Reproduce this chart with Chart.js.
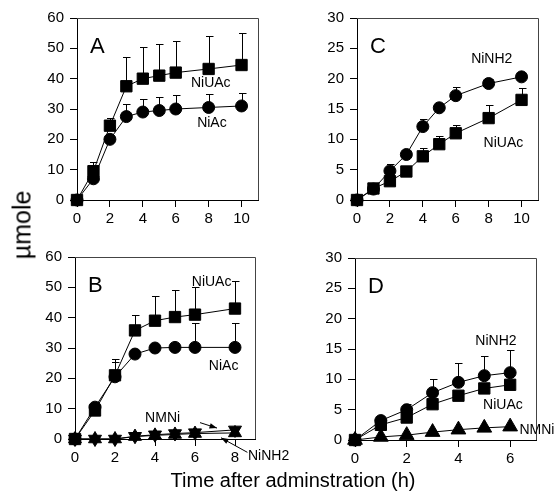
<!DOCTYPE html>
<html><head><meta charset="utf-8">
<script src="https://cdn.jsdelivr.net/npm/chart.js@4.4.0/dist/chart.umd.min.js"></script>
<style>
body{margin:0;background:#fff;width:558px;height:496px;position:relative;overflow:hidden;font-family:"Liberation Sans",Arial,sans-serif;}
canvas{position:absolute;}
.t{position:absolute;color:#000;white-space:nowrap;line-height:1;}
</style></head><body>
<canvas id="cA" width="280" height="240" style="left:0;top:0"></canvas>
<canvas id="cC" width="278" height="240" style="left:280px;top:0"></canvas>
<canvas id="cB" width="300" height="256" style="left:0;top:240px"></canvas>
<canvas id="cD" width="278" height="256" style="left:280px;top:240px"></canvas>
<div class="t" id="ylab" style="font-size:25px;left:22px;top:225px;transform:translate(-50%,-50%) rotate(-90deg);">µmole</div>
<div class="t" id="xlab" style="font-size:20px;left:293px;top:480px;transform:translate(-50%,-50%);">Time after adminstration (h)</div>
<script>
// ---------- data ----------
const timeAC = [0,1,2,3,4,5,6,8,10];
const timeB  = [0,1,2,3,4,5,6,8];
const timeD  = [0,1,2,3,4,5,6];

const xTicksAC = [0,2,4,6,8,10];
const xTicksB  = [0,2,4,6,8];
const xTicksD  = [0,2,4,6];
const yTicks60 = [0,10,20,30,40,50,60];
const yTicks30 = [0,5,10,15,20,25,30];

// Panel A
const A_NiUAc     = [0,9.5,24.5,37.5,40,41,42,43.2,44.5];
const A_NiUAc_err = [null,12.5,27,47.3,50.3,51.5,52.5,54,55.2];
const A_NiAc      = [0,7,20,27.5,29,29.5,30,30.5,31];
const A_NiAc_err  = [null,null,null,31.5,33.3,34,34.5,35,35.3];

// Panel C
const C_NiNH2     = [0,1.8,4.8,7.5,12.1,15.2,17.2,19.2,20.3];
const C_NiNH2_err = [null,null,6,null,13.4,15.9,18.7,19.9,null];
const C_NiUAc     = [0,1.9,3.1,4.7,7.2,9.2,11,13.5,16.5];
const C_NiUAc_err = [null,null,null,null,8.5,10.5,12.4,15.6,18.5];

// Panel B
const B_NiUAc     = [0,9.4,21,35.8,39,40.2,41,43];
const B_NiUAc_err = [null,12,26.5,41,47,49,50,52];
const B_NiAc      = [0,10.5,20.5,28,30,30.2,30.2,30.2];
const B_NiAc_err  = [null,null,25.5,null,null,null,38.2,38.2];
const B_NMNi      = [0,0,0,0.8,1.2,1.5,1.8,2.0];
const B_NiNH2     = [0,0,0,0.9,1.4,1.8,2.1,3.0];

// Panel D
const D_NiNH2     = [0,3.2,5,7.8,9.5,10.6,11.1];
const D_NiNH2_err = [null,null,5.9,10.1,12.7,13.8,14.9];
const D_NiUAc     = [0,2.5,3.7,5.9,7.3,8.5,9.1];
const D_NMNi      = [0,0.5,0.8,1.3,1.7,2.0,2.2];

// ---------- helpers ----------
const FONT = '"Liberation Sans", Arial, sans-serif';
function pts(xs, ys){ return xs.map((x,i)=>({x:x,y:ys[i]})); }
function ds(xs, ys, style, err, extra){
  return Object.assign({
    data: pts(xs, ys), err: err || null,
    borderColor:'#000', borderWidth:1, backgroundColor:'#000',
    pointStyle: style, pointRadius: style==='rect'?8:(style==='triangle'?8:6),
    pointBorderColor:'#000', pointBackgroundColor:'#000', pointBorderWidth:1,
    showLine:true, clip:false, tension:0
  }, extra||{});
}

const decor = {
  id:'decor',
  beforeDatasetsDraw(chart){
    const ctx = chart.ctx, a = chart.chartArea;
    const xs = chart.scales.x, ys = chart.scales.y;
    ctx.save();
    // top & right frame
    ctx.strokeStyle = '#444'; ctx.lineWidth = 1;
    ctx.beginPath();
    ctx.moveTo(a.left, a.top+0.5); ctx.lineTo(a.right+0.5, a.top+0.5);
    ctx.lineTo(a.right+0.5, a.bottom);
    ctx.stroke();
    // error bars
    ctx.strokeStyle = '#000';
    chart.data.datasets.forEach(d=>{
      if(!d.err) return;
      d.data.forEach((p,i)=>{
        const e = d.err[i];
        if(e==null) return;
        const px = Math.round(xs.getPixelForValue(p.x))+0.5;
        const py = ys.getPixelForValue(p.y);
        const pe = Math.round(ys.getPixelForValue(e))+0.5;
        ctx.beginPath();
        ctx.moveTo(px, py); ctx.lineTo(px, pe);
        ctx.moveTo(px-3.5, pe); ctx.lineTo(px+4, pe);
        ctx.stroke();
      });
    });
    ctx.restore();
  },
  afterDatasetsDraw(chart, args, o){
    const ctx = chart.ctx, a = chart.chartArea;
    const xs = chart.scales.x, ys = chart.scales.y;
    ctx.save();
    ctx.fillStyle = '#000';
    // panel letter
    ctx.font = '22px ' + FONT;
    ctx.textAlign = 'left'; ctx.textBaseline = 'alphabetic';
    ctx.fillText(o.panel, a.left + o.panelDx, a.top + 35);
    // series labels
    ctx.font = '14px ' + FONT;
    ctx.textBaseline = 'middle';
    (o.labels||[]).forEach(l=>{
      ctx.textAlign = l.align || 'center';
      ctx.fillText(l.text, xs.getPixelForValue(l.x), ys.getPixelForValue(l.y));
    });
    // arrows
    ctx.strokeStyle = '#000'; ctx.lineWidth = 1;
    (o.arrows||[]).forEach(r=>{
      const x1 = xs.getPixelForValue(r.x1), y1 = ys.getPixelForValue(r.y1);
      const x2 = xs.getPixelForValue(r.x2), y2 = ys.getPixelForValue(r.y2);
      ctx.beginPath(); ctx.moveTo(x1,y1); ctx.lineTo(x2,y2); ctx.stroke();
      const ang = Math.atan2(y2-y1, x2-x1), L = 8, W = 0.35;
      ctx.beginPath();
      ctx.moveTo(x2,y2);
      ctx.lineTo(x2 - L*Math.cos(ang-W), y2 - L*Math.sin(ang-W));
      ctx.lineTo(x2 - L*Math.cos(ang+W), y2 - L*Math.sin(ang+W));
      ctx.closePath(); ctx.fill();
    });
    ctx.restore();
  }
};

function axis(min, max, ticks, fitKey, fitVal){
  return {
    type:'linear', min:min, max:max,
    afterBuildTicks: ax => { ax.ticks = ticks.map(v=>({value:v})); },
    afterFit: ax => { ax[fitKey] = fitVal; },
    ticks:{ color:'#000', font:{family:FONT, size:15}, padding: fitKey==='width'?6:3, autoSkip:false, maxRotation:0 },
    grid:{ display:true, drawOnChartArea:false, drawTicks:true, tickLength:7, color:'#000', tickWidth:1 },
    border:{ display:true, color:'#000', width:1 }
  };
}

function make(id, datasets, xr, xt, yr, yt, yW, xH, pad, decorOpts){
  new Chart(document.getElementById(id), {
    type:'scatter',
    data:{ datasets: datasets },
    options:{
      responsive:false, animation:false, devicePixelRatio:1,
      layout:{ padding: pad },
      plugins:{ legend:{display:false}, tooltip:{enabled:false}, decor: decorOpts },
      scales:{
        x: axis(xr[0], xr[1], xt, 'height', xH),
        y: axis(yr[0], yr[1], yt, 'width', yW)
      }
    },
    plugins:[decor]
  });
}

// Panel A
make('cA', [
  ds(timeAC, A_NiUAc, 'rect', A_NiUAc_err),
  ds(timeAC, A_NiAc, 'circle', A_NiAc_err)
], [0,11], xTicksAC, [0,60], yTicks60, 77, 40, {left:0, top:18, right:22, bottom:0},
{ panel:'A', panelDx:13, labels:[
  {text:'NiUAc', x:8.13, y:38.6},
  {text:'NiAc', x:8.2, y:25.5}
]});

// Panel C
make('cC', [
  ds(timeAC, C_NiUAc, 'rect', C_NiUAc_err),
  ds(timeAC, C_NiNH2, 'circle', C_NiNH2_err)
], [0,11], xTicksAC, [0,30], yTicks30, 77, 40, {left:0, top:18, right:20, bottom:0},
{ panel:'C', panelDx:13, labels:[
  {text:'NiNH2', x:8.19, y:23.3},
  {text:'NiUAc', x:8.9, y:9.3}
]});

// Panel B
make('cB', [
  ds(timeB, B_NiUAc, 'rect', B_NiUAc_err),
  ds(timeB, B_NiAc, 'circle', B_NiAc_err),
  ds(timeB, B_NMNi, 'triangle', null, {pointRadius:7.5}),
  ds(timeB, B_NiNH2, 'triangle', null, {pointRadius:7.5, pointRotation:180})
], [0,9], xTicksB, [0,60], yTicks60, 75, 57, {left:0, top:17, right:45, bottom:0},
{ panel:'B', panelDx:13, labels:[
  {text:'NiUAc', x:6.83, y:51.6},
  {text:'NiAc', x:7.43, y:23.9},
  {text:'NMNi', x:4.38, y:7.0},
  {text:'NiNH2', x:8.65, y:-5.5, align:'left'}
], arrows:[
  {x1:6.25, y1:5.4, x2:7.1, y2:3.6},
  {x1:8.62, y1:-4.4, x2:7.3, y2:0.4}
]});

// Panel D
make('cD', [
  ds(timeD, D_NiUAc, 'rect', null),
  ds(timeD, D_NiNH2, 'circle', D_NiNH2_err),
  ds(timeD, D_NMNi, 'triangle', null, {pointRadius:8.5})
], [0,7], xTicksD, [0,30], yTicks30, 75, 56, {left:0, top:18, right:22, bottom:0},
{ panel:'D', panelDx:13, labels:[
  {text:'NiNH2', x:5.45, y:16.3},
  {text:'NiUAc', x:5.72, y:5.8},
  {text:'NMNi', x:6.36, y:1.6, align:'left'}
]});
</script>
</body></html>
